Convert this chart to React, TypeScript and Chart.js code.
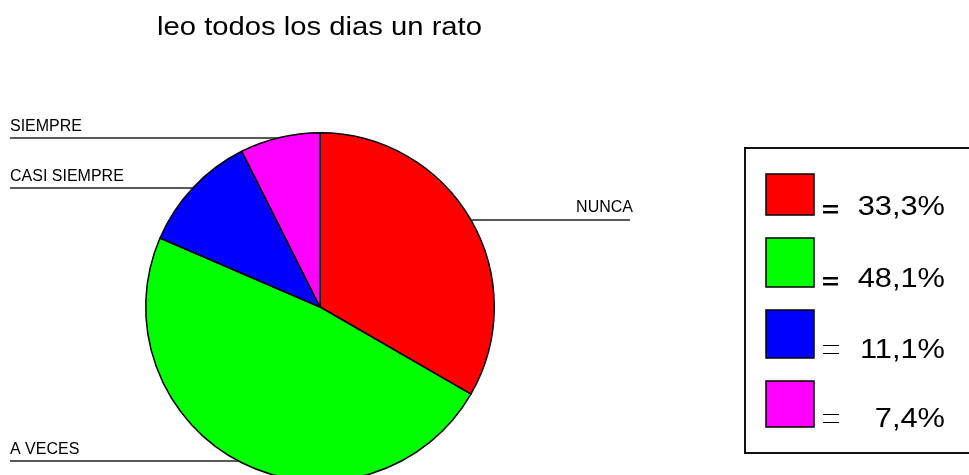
import React, { useEffect, useRef } from "react";
import { Chart, registerables } from "chart.js";

Chart.register(...registerables);

const TITLE = "leo todos los dias un rato";
const CATEGORIES = ["NUNCA", "A VECES", "CASI SIEMPRE", "SIEMPRE"];
const VALUES = [33.3, 48.1, 11.1, 7.4];
const COLORS = ["#ff0000", "#00ff00", "#0000ff", "#ff00ff"];
const PCT_LABELS = VALUES.map((v) => v.toFixed(1).replace(".", ","));

const FONT = "'Liberation Sans', Arial, sans-serif";
const W = 969;
const H = 500;

// callout layout: side and y of the leader line
const CALLOUTS = [
  { side: "right", lineY: 220, textEnd: 633 },
  { side: "left", lineY: 461, textStart: 10 },
  { side: "left", lineY: 188, textStart: 10 },
  { side: "left", lineY: 138, textStart: 10 },
];

const LEGEND_ROWS = [
  { top: 174, h: 41, bold: true },
  { top: 238, h: 49, bold: true },
  { top: 310, h: 48, bold: false },
  { top: 381, h: 46, bold: false },
];

const overlayPlugin = {
  id: "overlay",
  afterDraw(chart: any) {
    const ctx: CanvasRenderingContext2D = chart.ctx;
    const arc = chart.getDatasetMeta(0).data[0];
    const cx = arc.x;
    const cy = arc.y;
    const r = arc.outerRadius;
    ctx.save();

    // title
    ctx.font = `26px ${FONT}`;
    ctx.fillStyle = "#000";
    ctx.textBaseline = "alphabetic";
    const tw = ctx.measureText(TITLE).width;
    ctx.save();
    ctx.translate(157, 35);
    ctx.scale(325 / tw, 1);
    ctx.fillText(TITLE, 0, 0);
    ctx.restore();

    // callouts
    ctx.font = `16px ${FONT}`;
    ctx.strokeStyle = "#222";
    ctx.lineWidth = 1.5;
    CATEGORIES.forEach((name, i) => {
      const c: any = CALLOUTS[i];
      const dy = c.lineY - cy;
      const dx = Math.sqrt(Math.max(r * r - dy * dy, 0));
      ctx.beginPath();
      if (c.side === "left") {
        ctx.moveTo(c.textStart, c.lineY);
        ctx.lineTo(cx - dx, c.lineY);
        ctx.stroke();
        ctx.textAlign = "left";
        ctx.fillText(name, c.textStart, c.lineY - 7);
      } else {
        ctx.moveTo(cx + dx, c.lineY);
        ctx.lineTo(c.textEnd - 3, c.lineY);
        ctx.stroke();
        ctx.textAlign = "right";
        ctx.fillText(name, c.textEnd, c.lineY - 8);
      }
    });

    // legend box
    ctx.lineWidth = 2;
    ctx.strokeStyle = "#111";
    ctx.strokeRect(745, 148, 240, 305);
    ctx.font = `28px ${FONT}`;
    LEGEND_ROWS.forEach((row, i) => {
      ctx.fillStyle = COLORS[i];
      ctx.fillRect(766, row.top, 48, row.h);
      ctx.lineWidth = 1.5;
      ctx.strokeStyle = "#000";
      ctx.strokeRect(766, row.top, 48, row.h);
      const base = row.top + row.h;
      // equals sign
      ctx.fillStyle = "#000";
      if (row.bold) {
        ctx.fillRect(823, base - 10, 15, 2.5);
        ctx.fillRect(823, base - 4, 15, 2.5);
      } else {
        ctx.fillRect(823, base - 13, 16, 1);
        ctx.fillRect(823, base - 5, 16, 1);
      }
      const txt = PCT_LABELS[i] + "%";
      const w = ctx.measureText(txt).width;
      ctx.save();
      ctx.translate(945, base);
      ctx.scale(1.1, 1);
      ctx.textAlign = "left";
      ctx.fillText(txt, -w, 0);
      ctx.restore();
    });
    ctx.restore();
  },
};

export default function App() {
  const ref = useRef<HTMLCanvasElement | null>(null);
  useEffect(() => {
    document.body.style.margin = "0";
    const chart = new Chart(ref.current as HTMLCanvasElement, {
      type: "pie",
      data: {
        labels: CATEGORIES,
        datasets: [
          {
            data: VALUES,
            backgroundColor: COLORS,
            borderColor: "#000",
            borderWidth: 1.5,
          },
        ],
      },
      options: {
        responsive: false,
        animation: false,
        events: [],
        layout: { padding: { left: 145, top: 132, right: W - 495, bottom: H - 482 } },
        plugins: {
          legend: { display: false },
          tooltip: { enabled: false },
          title: { display: false },
        },
      },
      plugins: [overlayPlugin],
    });
    return () => chart.destroy();
  }, []);
  return (
    <div style={{ position: "absolute", left: 0, top: 0, width: W, height: H, background: "#fff" }}>
      <canvas ref={ref} width={W} height={H} style={{ display: "block" }} />
    </div>
  );
}
